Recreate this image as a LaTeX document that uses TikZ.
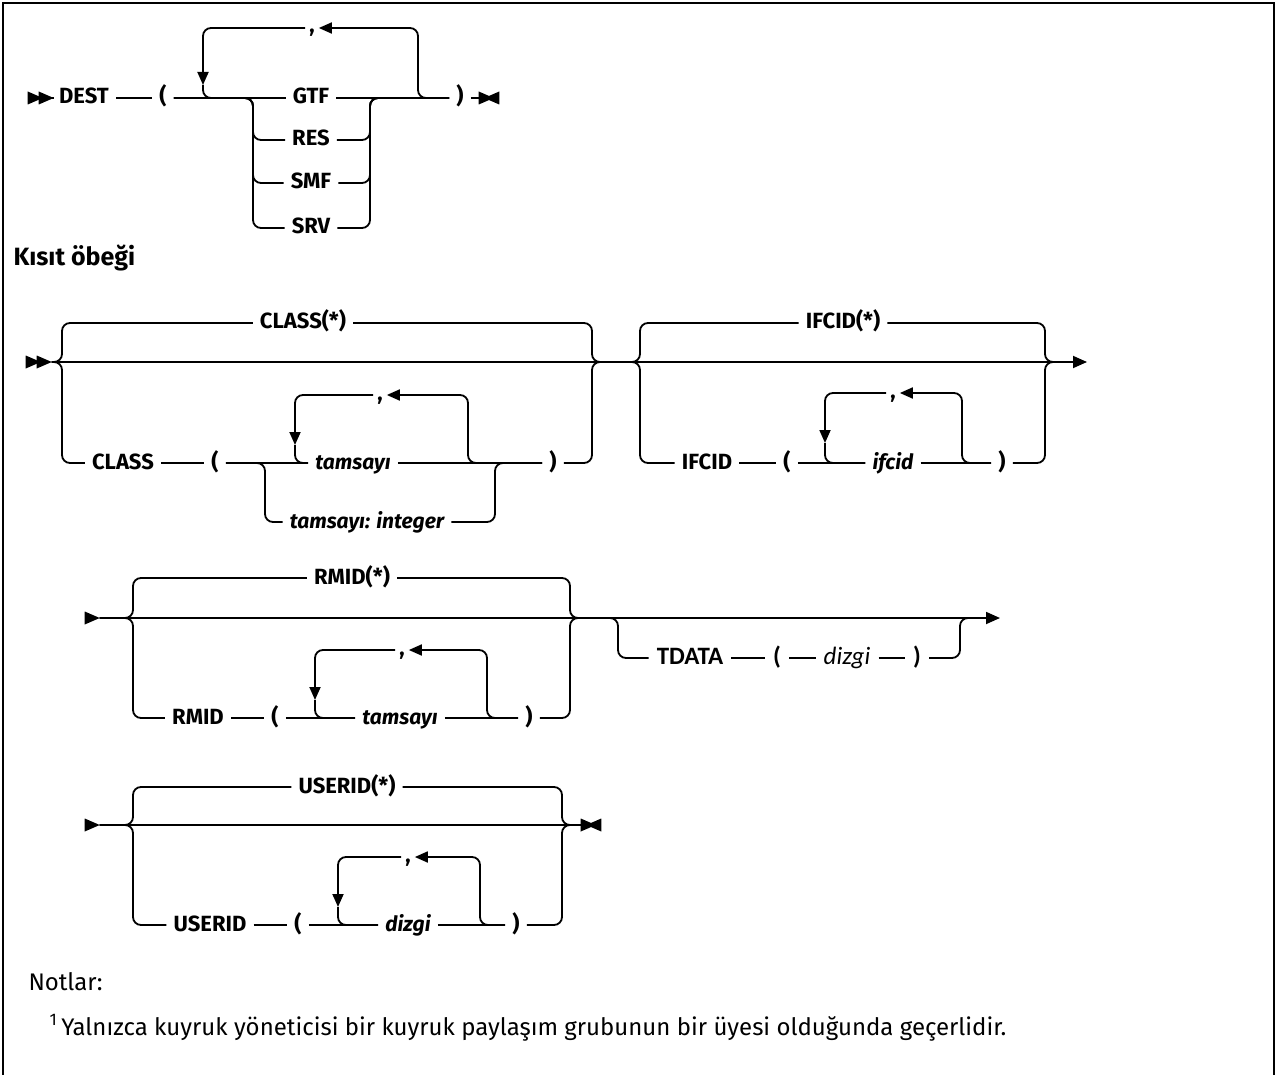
\documentclass[tikz,border=0pt]{standalone}
\usepackage{fontspec}
\setmainfont{Fira Sans}
\newfontfamily\calfont{Carlito}
\usetikzlibrary{arrows.meta,shapes.geometric}

\begin{document}
\begin{tikzpicture}[x=1pt, y=-1pt,
    rail/.style={line width=1.8pt, rounded corners=8pt},
    kw/.style={font=\fontsize{22}{26}\selectfont\bfseries, inner xsep=7pt, inner ysep=1pt, text height=16pt, text depth=4pt},
    var/.style={font=\fontsize{21}{26}\selectfont\bfseries\itshape, inner xsep=7pt, inner ysep=1pt, text height=16pt, text depth=4pt},
    cal/.style={font=\calfont\fontsize{25}{28}\selectfont\bfseries, inner xsep=8pt, inner ysep=1pt, text height=17pt, text depth=5pt},
    calv/.style={cal, font=\calfont\fontsize{25}{28}\selectfont\itshape},
    comma/.style={font=\fontsize{22}{26}\selectfont\bfseries, inner xsep=4pt, inner ysep=0pt, text height=10pt, text depth=0pt},
    go/.style={shape=isosceles triangle, fill, inner sep=0pt, outer sep=0pt, minimum width=13pt, minimum height=15pt, isosceles triangle stretches},
    halt/.style={go, shape border rotate=180},
    ret/.style={-{Triangle[length=13pt, width=11pt]}},
    fin/.style={-{Triangle[length=14pt, width=12pt]}}]

    \useasboundingbox (0,0) rectangle (1277,1075);
    \draw[line width=2.2pt] (3,1075) -- (3,3) -- (1274,3) -- (1274,1075);

    % DEST
    \node[go] (a1) at (32,98) {};
    \node[go] (a2) at (43,98) {};
    \node[kw] (dest) at (84,98) {DEST};
    \node[kw] (p1) at (163,98) {(};
    \node[kw] (gtf) at (311,98) {GTF};
    \node[kw] (res) at (311,140) {RES};
    \node[kw] (smf) at (311,183) {SMF};
    \node[kw] (srv) at (311,228) {SRV};
    \node[kw] (q1) at (460,98) {)};
    \node[go] (z1) at (483,98) {};
    \node[halt] (z2) at (495,98) {};
    \node[comma] (c1) at (312,28) {,};
    \coordinate (u2) at (418,28);
    \coordinate (t1) at (203,85);
    \coordinate (b1) at (253,98);
    \coordinate (b2) at (370,98);

    \path[rail]
        (a2) edge (dest)
        (dest) edge (p1)
        (p1) edge (gtf)
        (gtf) edge (q1)
        (q1) edge (z1)
    ;
    \draw[rail, ret] (c1) -| (t1);
    \draw[rail] (t1) |- (gtf);
    \draw[rail, ret] (q1) -| (u2) -- (c1);
    \draw[rail] (p1) -| (b1 |- res) -- (res);
    \draw[rail] (p1) -| (b1 |- smf) -- (smf);
    \draw[rail] (p1) -| (b1 |- srv) -- (srv);
    \draw[rail] (res) -| (b2) -- (q1);
    \draw[rail] (smf) -| (b2) -- (q1);
    \draw[rail] (srv) -| (b2) -- (q1);

    \node[anchor=base west, font=\fontsize{25}{30}\selectfont\bfseries] (grp) at (10,266) {Kısıt öbeği};

    % CLASS, IFCID
    \node[go] (a3) at (30,362) {};
    \node[go] (a4) at (41,362) {};
    \coordinate (k1) at (62,362);
    \node[kw] (cls0) at (303,323) {CLASS(*)};
    \node[kw] (cls) at (123,463) {CLASS};
    \node[kw] (p2) at (215,463) {(};
    \node[comma] (c2) at (380,395) {,};
    \node[var] (n1) at (353,463) {tamsayı};
    \node[var] (n2) at (367,522) {tamsayı: integer};
    \node[kw] (q2) at (553,463) {)};
    \coordinate (k2) at (592,362);
    \coordinate (u4) at (468,395);
    \coordinate (t2) at (295,445);
    \coordinate (b3) at (265,463);
    \coordinate (b4) at (495,463);

    \coordinate (k3) at (640,362);
    \node[kw] (ifc0) at (843,323) {IFCID(*)};
    \node[kw] (ifc) at (707,463) {IFCID};
    \node[kw] (p3) at (787,463) {(};
    \node[comma] (c3) at (893,393) {,};
    \node[var] (n3) at (893,463) {ifcid};
    \node[kw] (q3) at (1002,463) {)};
    \coordinate (k4) at (1045,362);
    \coordinate (k5) at (1060,362);
    \coordinate (u6) at (962,393);
    \coordinate (t3) at (825,443);
    \coordinate (e1) at (1087,362);

    \draw[rail, fin] (a4) -- (e1);
    \draw[rail] (a4) -| (k1 |- cls0) -- (cls0);
    \draw[rail] (a4) -| (k1 |- cls) -- (cls);
    \draw[rail] (cls0) -| (k2) -- (k3);
    \path[rail]
        (cls) edge (p2)
        (p2) edge (n1)
        (n1) edge (q2)
    ;
    \draw[rail] (q2) -| (k2) -- (k3);
    \draw[rail, ret] (c2) -| (t2);
    \draw[rail] (t2) |- (n1);
    \draw[rail, ret] (q2) -| (u4) -- (c2);
    \draw[rail] (p2) -| (b3 |- n2) -- (n2);
    \draw[rail] (n2) -| (b4) -- (q2);

    \draw[rail] (k2) -| (k3 |- ifc0) -- (ifc0);
    \draw[rail] (k2) -| (k3 |- ifc) -- (ifc);
    \path[rail]
        (ifc) edge (p3)
        (p3) edge (n3)
        (n3) edge (q3)
    ;
    \draw[rail] (ifc0) -| (k4) -- (k5);
    \draw[rail] (q3) -| (k4) -- (k5);
    \draw[rail, ret] (c3) -| (t3);
    \draw[rail] (t3) |- (n3);
    \draw[rail, ret] (q3) -| (u6) -- (c3);

    % RMID, TDATA
    \node[go] (a5) at (89,618) {};
    \coordinate (k6) at (133,618);
    \node[kw] (rm0) at (352,578) {RMID(*)};
    \node[kw] (rm) at (198,718) {RMID};
    \node[kw] (p4) at (275,718) {(};
    \node[comma] (c4) at (402,650) {,};
    \node[var] (n4) at (400,718) {tamsayı};
    \node[kw] (q4) at (529,718) {)};
    \coordinate (k7) at (570,618);
    \coordinate (u8) at (487,650);
    \coordinate (t4) at (315,700);

    \coordinate (k8) at (618,618);
    \node[cal] (td) at (690,658) {TDATA};
    \node[cal] (p5) at (777,658) {(};
    \node[calv] (n5) at (847,658) {dizgi};
    \node[cal] (q5) at (917,658) {)};
    \coordinate (k9) at (960,618);
    \coordinate (k10) at (975,618);
    \coordinate (e2) at (1000,618);

    \draw[rail, fin] (a5) -- (e2);
    \draw[rail] (a5) -| (k6 |- rm0) -- (rm0);
    \draw[rail] (a5) -| (k6 |- rm) -- (rm);
    \draw[rail] (rm0) -| (k7) -- (k8);
    \path[rail]
        (rm) edge (p4)
        (p4) edge (n4)
        (n4) edge (q4)
    ;
    \draw[rail] (q4) -| (k7) -- (k8);
    \draw[rail, ret] (c4) -| (t4);
    \draw[rail] (t4) |- (n4);
    \draw[rail, ret] (q4) -| (u8) -- (c4);

    \draw[rail] (k7) -| (k8 |- td) -- (td);
    \path[rail]
        (td) edge (p5)
        (p5) edge (n5)
        (n5) edge (q5)
    ;
    \draw[rail] (q5) -| (k9) -- (k10);

    % USERID
    \node[go] (a6) at (89,825) {};
    \coordinate (k11) at (133,825);
    \node[kw] (us0) at (347,787) {USERID(*)};
    \node[kw] (us) at (210,925) {USERID};
    \node[kw] (p6) at (298,925) {(};
    \node[comma] (c5) at (408,857) {,};
    \node[var] (n6) at (408,925) {dizgi};
    \node[kw] (q6) at (516,925) {)};
    \coordinate (k12) at (562,825);
    \coordinate (u10) at (480,857);
    \coordinate (t5) at (338,907);
    \node[go] (z3) at (585,825) {};
    \node[halt] (z4) at (597,825) {};

    \draw[rail] (a6) -- (z3);
    \draw[rail] (a6) -| (k11 |- us0) -- (us0);
    \draw[rail] (a6) -| (k11 |- us) -- (us);
    \draw[rail] (us0) -| (k12) -- (z3);
    \path[rail]
        (us) edge (p6)
        (p6) edge (n6)
        (n6) edge (q6)
    ;
    \draw[rail] (q6) -| (k12) -- (z3);
    \draw[rail, ret] (c5) -| (t5);
    \draw[rail] (t5) |- (n6);
    \draw[rail, ret] (q6) -| (u10) -- (c5);

    \node[anchor=base west, font=\fontsize{24}{28}\selectfont] (nt) at (25,990) {Notlar:};
    \node[anchor=base west, font=\fontsize{24}{28}\selectfont] (fn) at (46,1035) {\textsuperscript{1}\,Yalnızca kuyruk yöneticisi bir kuyruk paylaşım grubunun bir üyesi olduğunda geçerlidir.};
\end{tikzpicture}
\end{document}
